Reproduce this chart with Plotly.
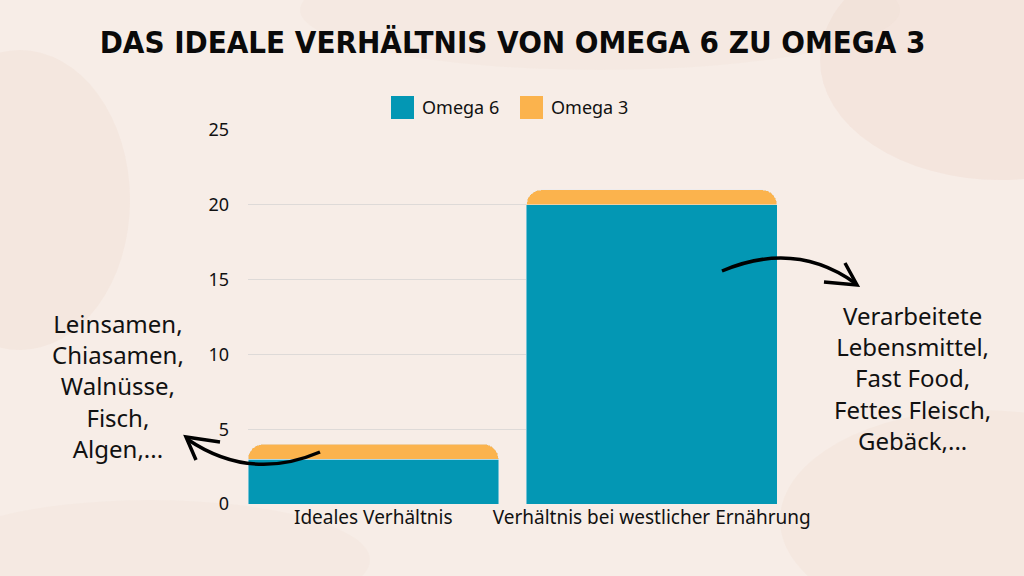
import plotly.graph_objects as go

# Daten
kategorien = ['Ideales Verhältnis', 'Verhältnis bei westlicher Ernährung']
omega6 = [3, 20]
omega3 = [1, 1]
serien = ['Omega 6', 'Omega 3']

links_text = 'Leinsamen,<br>Chiasamen,<br>Walnüsse,<br>Fisch,<br>Algen,...'
rechts_text = 'Verarbeitete<br>Lebensmittel,<br>Fast Food,<br>Fettes Fleisch,<br>Gebäck,...'

TEAL = '#0397b4'
ORANGE = '#fbb34d'

# plot area in pixels (used only for decoration placement)
L, R, T, B = 248, 777, 130, 504


def p(x, y):
    # pixel -> paper coords
    return (x - L) / (R - L), (B - y) / (B - T)


def path(points):
    s = ''
    for i, (x, y) in enumerate(points):
        px, py = p(x, y)
        s += ('M' if i == 0 else 'L') + f'{px:.4f},{py:.4f} '
    return s


def qcurve(a, c, b):
    ax, ay = p(*a)
    cx, cy = p(*c)
    bx, by = p(*b)
    return f'M{ax:.4f},{ay:.4f} Q{cx:.4f},{cy:.4f} {bx:.4f},{by:.4f}'


fig = go.Figure()
fig.add_trace(go.Bar(x=kategorien, y=omega6, name=serien[0], marker_color=TEAL))
fig.add_trace(go.Bar(x=kategorien, y=omega3, name=serien[1], marker_color=ORANGE))

shapes = []
# soft watercolor-ish background blotches
for cx, cy, rx, ry, col in [
    (1000, 60, 180, 120, 'rgba(232,196,178,0.18)'),
    (20, 200, 110, 150, 'rgba(235,205,190,0.18)'),
    (980, 520, 200, 110, 'rgba(236,206,190,0.15)'),
    (600, 10, 300, 60, 'rgba(238,212,198,0.15)'),
    (150, 560, 220, 60, 'rgba(238,214,200,0.15)'),
]:
    x0, y0 = p(cx - rx, cy + ry)
    x1, y1 = p(cx + rx, cy - ry)
    shapes.append(dict(type='circle', xref='paper', yref='paper', x0=x0, y0=y0, x1=x1, y1=y1,
                       fillcolor=col, line_width=0, layer='below'))

# legend swatches (big squares like the original)
for sx, col in [(391, TEAL), (520, ORANGE)]:
    x0, y0 = p(sx, 119)
    x1, y1 = p(sx + 23, 96)
    shapes.append(dict(type='rect', xref='paper', yref='paper', x0=x0, y0=y0, x1=x1, y1=y1,
                       fillcolor=col, line_width=0))

arrow = dict(type='path', xref='paper', yref='paper', line=dict(color='black', width=3.5))
# right arrow
shapes.append(dict(arrow, path=qcurve((722, 271), (795, 240), (855, 283))))
shapes.append(dict(arrow, path=path([(845, 263), (857, 285), (824, 282)])))
# left arrow
shapes.append(dict(arrow, path=qcurve((320, 452), (250, 482), (187, 439))))
shapes.append(dict(arrow, path=path([(220, 442), (186, 437), (196, 460)])))

fig.update_layout(
    width=1024, height=576,
    margin=dict(l=L, r=1024 - R, t=T, b=576 - B),
    paper_bgcolor='#f7ede7',
    plot_bgcolor='rgba(0,0,0,0)',
    barmode='stack',
    bargap=0.1,
    barcornerradius=15,
    font=dict(family='Noto Sans', color='#111111', size=18),
    title=dict(text='DAS IDEALE VERHÄLTNIS VON OMEGA 6 ZU OMEGA 3',
               x=0.5, xref='paper', y=0.927, yanchor='middle',
               font=dict(family='DejaVu Sans Condensed', size=31, weight='bold', color='#0a0a0a')),
    showlegend=False,
    xaxis=dict(range=[-0.45, 1.45], showgrid=False, showline=False, ticks='',
               tickfont=dict(size=19)),
    yaxis=dict(range=[0, 25], dtick=5, showgrid=True, gridcolor='#dedad8', gridwidth=1,
               zeroline=False, showline=False, ticks='', ticklabelstandoff=18,
               tickfont=dict(size=18)),
    shapes=shapes,
)

# legend labels
for lx, name in [(420, serien[0]), (549, serien[1])]:
    fig.add_annotation(text=name, xref='paper', yref='paper', x=p(lx, 0)[0], y=p(0, 107)[1],
                       showarrow=False, xanchor='left', yanchor='middle', font=dict(size=18))

fig.add_annotation(text=links_text, xref='paper', yref='paper', x=p(118, 0)[0], y=p(0, 386)[1],
                   showarrow=False, align='center', xanchor='center', yanchor='middle',
                   font=dict(size=24, family='Noto Sans'))
fig.add_annotation(text=rechts_text, xref='paper', yref='paper', x=p(912, 0)[0], y=p(0, 378)[1],
                   showarrow=False, align='center', xanchor='center', yanchor='middle',
                   font=dict(size=24, family='Noto Sans'))

fig.write_html('out.html', config={'displayModeBar': False},
               post_script="document.body.style.margin='0';")
